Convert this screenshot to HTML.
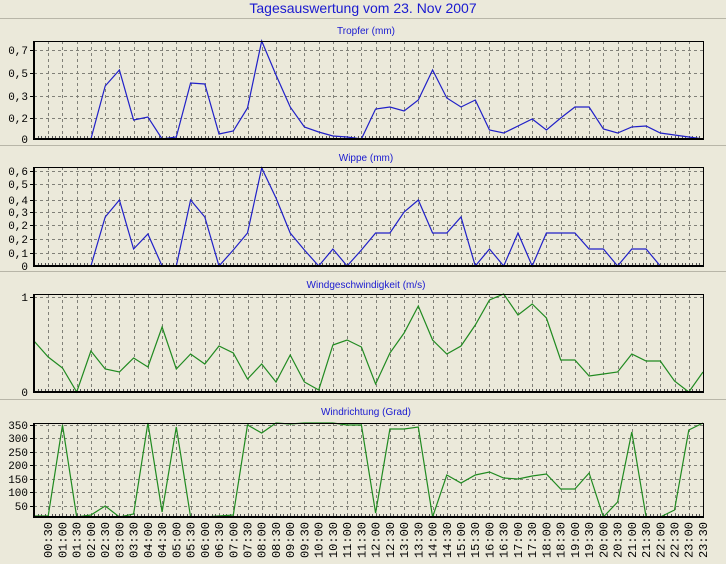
<!DOCTYPE html>
<html><head><meta charset="utf-8"><style>
html,body{margin:0;padding:0;background:#ebe9da;}
svg{display:block;font-family:"Liberation Sans",sans-serif;}
.yl{font-family:"Liberation Mono",monospace;font-size:11px;fill:#000;text-anchor:end;}
.xl{font-family:"Liberation Mono",monospace;font-size:12px;fill:#000;text-anchor:end;}
.pt{font-size:10px;fill:#1a1ad0;text-anchor:middle;}
</style></head><body>
<svg id="s" width="726" height="564" viewBox="0 0 726 564" xmlns="http://www.w3.org/2000/svg">
<rect width="726" height="564" fill="#ebe9da"/>
<text x="363" y="13" font-size="14" fill="#1a1ad0" text-anchor="middle">Tagesauswertung vom 23. Nov 2007</text>
<line x1="0" y1="18.5" x2="726" y2="18.5" stroke="#b8b6a8"/>
<line x1="0" y1="145.5" x2="726" y2="145.5" stroke="#b8b6a8"/>
<line x1="0" y1="271.5" x2="726" y2="271.5" stroke="#b8b6a8"/>
<line x1="0" y1="399.5" x2="726" y2="399.5" stroke="#b8b6a8"/>
<text class="pt" x="366" y="34">Tropfer (mm)</text>
<text class="pt" x="366" y="161">Wippe (mm)</text>
<text class="pt" x="366" y="288">Windgeschwindigkeit (m/s)</text>
<text class="pt" x="366" y="415">Windrichtung (Grad)</text>
<g id="g"></g>
<g>
<text class="yl" x="28" y="54">0,7</text><text class="yl" x="28" y="77">0,5</text><text class="yl" x="28" y="100">0,3</text><text class="yl" x="28" y="122">0,2</text><text class="yl" x="28" y="143">0</text>
<text class="yl" x="28" y="175">0,6</text><text class="yl" x="28" y="188">0,5</text><text class="yl" x="28" y="204">0,4</text><text class="yl" x="28" y="216">0,3</text><text class="yl" x="28" y="229">0,2</text><text class="yl" x="28" y="243">0,2</text><text class="yl" x="28" y="257">0,1</text><text class="yl" x="28" y="270">0</text>
<text class="yl" x="28" y="301">1</text><text class="yl" x="28" y="396">0</text>
<text class="yl" x="28" y="429">350</text><text class="yl" x="28" y="442">300</text><text class="yl" x="28" y="456">250</text><text class="yl" x="28" y="469">200</text><text class="yl" x="28" y="483">150</text><text class="yl" x="28" y="496">100</text><text class="yl" x="28" y="510">50</text>
</g>
<g id="xl">
<text class="xl" transform="translate(52.2,522) rotate(-90)">00:30</text>
<text class="xl" transform="translate(66.5,522) rotate(-90)">01:00</text>
<text class="xl" transform="translate(80.7,522) rotate(-90)">01:30</text>
<text class="xl" transform="translate(94.9,522) rotate(-90)">02:00</text>
<text class="xl" transform="translate(109.2,522) rotate(-90)">02:30</text>
<text class="xl" transform="translate(123.4,522) rotate(-90)">03:00</text>
<text class="xl" transform="translate(137.6,522) rotate(-90)">03:30</text>
<text class="xl" transform="translate(151.9,522) rotate(-90)">04:00</text>
<text class="xl" transform="translate(166.1,522) rotate(-90)">04:30</text>
<text class="xl" transform="translate(180.3,522) rotate(-90)">05:00</text>
<text class="xl" transform="translate(194.6,522) rotate(-90)">05:30</text>
<text class="xl" transform="translate(208.8,522) rotate(-90)">06:00</text>
<text class="xl" transform="translate(223.0,522) rotate(-90)">06:30</text>
<text class="xl" transform="translate(237.3,522) rotate(-90)">07:00</text>
<text class="xl" transform="translate(251.5,522) rotate(-90)">07:30</text>
<text class="xl" transform="translate(265.7,522) rotate(-90)">08:00</text>
<text class="xl" transform="translate(280.0,522) rotate(-90)">08:30</text>
<text class="xl" transform="translate(294.2,522) rotate(-90)">09:00</text>
<text class="xl" transform="translate(308.4,522) rotate(-90)">09:30</text>
<text class="xl" transform="translate(322.7,522) rotate(-90)">10:00</text>
<text class="xl" transform="translate(336.9,522) rotate(-90)">10:30</text>
<text class="xl" transform="translate(351.1,522) rotate(-90)">11:00</text>
<text class="xl" transform="translate(365.4,522) rotate(-90)">11:30</text>
<text class="xl" transform="translate(379.6,522) rotate(-90)">12:00</text>
<text class="xl" transform="translate(393.8,522) rotate(-90)">12:30</text>
<text class="xl" transform="translate(408.1,522) rotate(-90)">13:00</text>
<text class="xl" transform="translate(422.3,522) rotate(-90)">13:30</text>
<text class="xl" transform="translate(436.5,522) rotate(-90)">14:00</text>
<text class="xl" transform="translate(450.8,522) rotate(-90)">14:30</text>
<text class="xl" transform="translate(465.0,522) rotate(-90)">15:00</text>
<text class="xl" transform="translate(479.2,522) rotate(-90)">15:30</text>
<text class="xl" transform="translate(493.5,522) rotate(-90)">16:00</text>
<text class="xl" transform="translate(507.7,522) rotate(-90)">16:30</text>
<text class="xl" transform="translate(521.9,522) rotate(-90)">17:00</text>
<text class="xl" transform="translate(536.2,522) rotate(-90)">17:30</text>
<text class="xl" transform="translate(550.4,522) rotate(-90)">18:00</text>
<text class="xl" transform="translate(564.6,522) rotate(-90)">18:30</text>
<text class="xl" transform="translate(578.9,522) rotate(-90)">19:00</text>
<text class="xl" transform="translate(593.1,522) rotate(-90)">19:30</text>
<text class="xl" transform="translate(607.3,522) rotate(-90)">20:00</text>
<text class="xl" transform="translate(621.6,522) rotate(-90)">20:30</text>
<text class="xl" transform="translate(635.8,522) rotate(-90)">21:00</text>
<text class="xl" transform="translate(650.0,522) rotate(-90)">21:30</text>
<text class="xl" transform="translate(664.3,522) rotate(-90)">22:00</text>
<text class="xl" transform="translate(678.5,522) rotate(-90)">22:30</text>
<text class="xl" transform="translate(692.7,522) rotate(-90)">23:00</text>
<text class="xl" transform="translate(707.0,522) rotate(-90)">23:30</text>
</g>
</svg>
<script>
(function(){
var NS="http://www.w3.org/2000/svg",g=document.getElementById("g");
var L=34,R=703,s=(R-L)/47;
function el(n,a){var e=document.createElementNS(NS,n);for(var k in a)e.setAttribute(k,a[k]);g.appendChild(e);return e;}
var panels=[
 {t:41,b:139,gy:[50,73,96,118],c:"#2020c8",d:[139,139,139,139,139,86,70,120,117,139,137,83,84,134,131,108,41,75,107,127,132,136,137,139,109,107,111,100,70,98,107,100,130,133,126,119,130,118,107,107,129,133,127,126,133,135,137,139]},
 {t:167,b:266,gy:[171,184,200,212,225,239,253],c:"#2020c8",d:[266,266,266,266,266,217,200,249,234,266,266,200,217,266,250,233,168,198,233,250,266,249,266,250,233,233,212,200,233,233,217,266,249,266,233,266,233,233,233,249,249,266,249,249,266]},
 {t:294,b:392,gy:[297],c:"#208a20",d:[341,357,368,392,351,369,372,358,367,327,369,354,364,346,353,379,364,382,355,382,390,345,340,347,384,353,333,306,340,354,346,325,300,294,315,304,318,360,360,376,374,372,354,361,361,381,392,372]},
 {t:423,b:517,gy:[425,438,452,465,479,492,506],c:"#208a20",d:[516,516,425,517,515,506,517,514,423,512,427,517,517,516,515,425,433,423,424,423,423,423,425,425,513,429,429,427,517,475,483,475,472,478,479,476,474,489,489,473,517,502,432,517,517,510,430,423]}
];
panels.forEach(function(p){
 p.gy.forEach(function(y){el("line",{x1:L,x2:R,y1:y+.5,y2:y+.5,stroke:"#808078","stroke-dasharray":"3,3","stroke-width":1});});
 for(var i=1;i<47;i++){var x=Math.round(L+i*s)+.5;el("line",{x1:x,x2:x,y1:p.t,y2:p.b,stroke:"#808078","stroke-dasharray":"3,3","stroke-width":1});}
 for(var j=1;j<47*4;j++){var x2=Math.round(L+j*s/4)+.5;el("line",{x1:x2,x2:x2,y1:p.b-3,y2:p.b,stroke:"#555","stroke-width":1});}
 var pts=p.d.map(function(v,i){return (L+i*s).toFixed(1)+","+v;}).join(" ");
 el("polyline",{points:pts,fill:"none",stroke:p.c,"stroke-width":1.2});
 el("rect",{x:L+.5,y:p.t+.5,width:R-L,height:p.b-p.t,fill:"none",stroke:"#000","stroke-width":1});
 el("line",{x1:L,x2:L,y1:p.t,y2:p.b+1,stroke:"#000","stroke-width":2});
 el("line",{x1:L-1,x2:R+1,y1:p.b,y2:p.b,stroke:"#000","stroke-width":2});
 for(var k=0;k<p.gy.length;k++)el("line",{x1:L-4,x2:L,y1:p.gy[k]+.5,y2:p.gy[k]+.5,stroke:"#000"});
});
})();
</script>
</body></html>
